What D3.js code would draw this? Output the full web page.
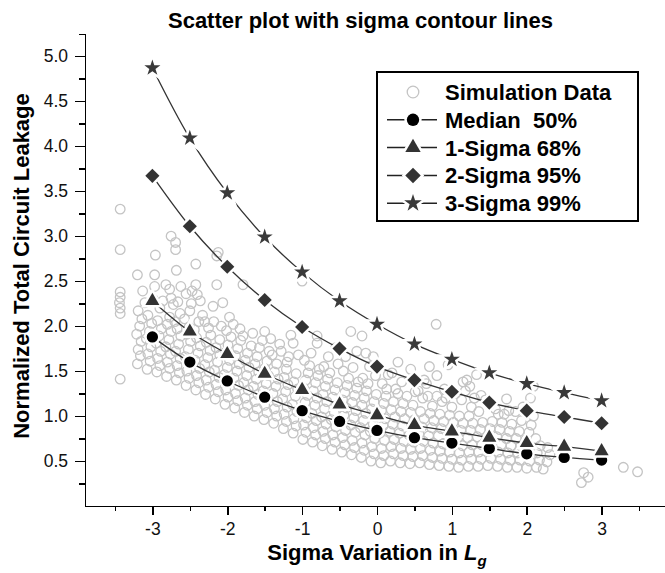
<!DOCTYPE html>
<meta charset="utf-8">
<style>
body { margin: 0; background: #fff; }
svg { font-family: Arial, "Liberation Sans", sans-serif; }
.axis path, .axis line { stroke: #000; stroke-width: 1.5; fill: none; shape-rendering: crispEdges; }
.axis text { font-size: 17.5px; fill: #111; }
.title, .label, .legend text { font-weight: bold; fill: #000; }
.sim { fill: none; stroke: #c4c4c4; stroke-width: 1.3; }
.curve { fill: none; stroke: #333; stroke-width: 1.3; }
</style>
<body></body>
<script src="https://cdnjs.cloudflare.com/ajax/libs/d3/7.8.5/d3.min.js"></script>
<script>
// ticks
var xTicks = [-3, -2, -1, 0, 1, 2, 3];
var xMinor = [-3.5, -2.5, -1.5, -0.5, 0.5, 1.5, 2.5, 3.5];
var yTicks = [0.5, 1.0, 1.5, 2.0, 2.5, 3.0, 3.5, 4.0, 4.5, 5.0];
var yMinor = [0.25, 0.75, 1.25, 1.75, 2.25, 2.75, 3.25, 3.75, 4.25, 4.75, 5.25];

// contour lines (x = sigma of Lg)
var sigmaX   = [-3, -2.5, -2, -1.5, -1, -0.5, 0, 0.5, 1, 1.5, 2, 2.5, 3];
var median50 = [1.88, 1.60, 1.39, 1.21, 1.06, 0.94, 0.84, 0.76, 0.70, 0.64, 0.58, 0.54, 0.51];
var sigma68  = [2.28, 1.94, 1.69, 1.47, 1.29, 1.13, 1.01, 0.90, 0.83, 0.76, 0.70, 0.66, 0.61];
var sigma95  = [3.67, 3.11, 2.66, 2.29, 1.99, 1.75, 1.55, 1.40, 1.27, 1.15, 1.06, 0.99, 0.92];
var sigma99  = [4.87, 4.09, 3.48, 2.99, 2.60, 2.28, 2.02, 1.80, 1.63, 1.48, 1.36, 1.26, 1.17];

var legendNames = ["Simulation Data", "Median  50%", "1-Sigma 68%", "2-Sigma 95%", "3-Sigma 99%"];

// monte carlo points [sigma, leakage]
var simPoints = [
  [-3.43,3.30],[-3.43,2.85],[-3.43,2.38],[-3.43,2.32],[-3.44,2.26],[-3.43,2.20],[-3.43,2.14],[-3.43,1.41],
  [-3.20,1.58],[-3.16,1.67],[-3.19,1.74],[-3.15,1.83],[-3.21,1.91],[-3.17,2.00],[-3.14,2.08],[-3.19,2.17],[-3.13,2.39],[-3.20,2.57],
  [-3.07,1.52],[-3.03,1.61],[-3.06,1.69],[-3.02,1.77],[-3.08,1.86],[-3.04,1.94],[-3.01,2.03],[-3.06,2.12],[-2.97,2.44],[-2.97,2.57],[-2.96,2.79],
  [-2.94,1.49],[-2.90,1.56],[-2.93,1.64],[-2.89,1.72],[-2.95,1.81],[-2.91,1.89],[-2.88,1.97],[-2.93,2.06],[-2.90,2.20],
  [-2.81,1.44],[-2.77,1.53],[-2.80,1.60],[-2.76,1.69],[-2.82,1.77],[-2.78,1.85],[-2.75,1.94],[-2.80,2.02],[-2.77,2.10],[-2.75,2.31],[-2.72,2.24],[-2.77,2.41],[-2.82,2.46],
  [-2.68,1.40],[-2.64,1.48],[-2.67,1.56],[-2.63,1.64],[-2.69,1.72],[-2.65,1.80],[-2.62,1.89],[-2.67,1.97],[-2.62,2.44],[-2.68,2.62],[-2.69,2.85],[-2.69,2.93],[-2.75,3.00],
  [-2.55,1.34],[-2.51,1.42],[-2.54,1.50],[-2.50,1.58],[-2.56,1.66],[-2.52,1.74],[-2.49,1.83],[-2.54,1.91],[-2.51,1.99],[-2.50,2.17],
  [-2.42,1.29],[-2.38,1.37],[-2.41,1.45],[-2.37,1.53],[-2.43,1.62],[-2.39,1.70],[-2.36,1.78],[-2.41,1.87],[-2.38,2.05],[-2.40,2.35],[-2.47,2.39],[-2.42,2.46],[-2.42,2.69],
  [-2.29,1.24],[-2.25,1.32],[-2.28,1.40],[-2.24,1.49],[-2.30,1.57],[-2.26,1.65],[-2.23,1.73],[-2.28,1.82],[-2.25,1.98],[-2.19,2.22],
  [-2.16,1.19],[-2.12,1.27],[-2.15,1.35],[-2.11,1.43],[-2.17,1.51],[-2.13,1.60],[-2.10,1.68],[-2.15,1.76],[-2.06,2.26],[-2.14,2.46],[-2.14,2.78],[-2.12,2.82],
  [-2.03,1.13],[-1.99,1.21],[-2.02,1.29],[-1.98,1.37],[-2.04,1.46],[-2.00,1.54],[-1.97,1.62],[-2.02,1.71],[-1.99,1.79],[-2.01,1.95],[-1.97,2.10],
  [-1.90,1.09],[-1.86,1.17],[-1.89,1.25],[-1.85,1.34],[-1.91,1.42],[-1.87,1.50],[-1.84,1.58],[-1.89,1.67],[-1.86,1.75],
  [-1.77,1.04],[-1.73,1.12],[-1.76,1.20],[-1.72,1.29],[-1.78,1.37],[-1.74,1.45],[-1.71,1.54],[-1.76,1.62],[-1.73,1.70],[-1.79,1.89],[-1.79,2.46],
  [-1.64,1.00],[-1.60,1.08],[-1.63,1.16],[-1.59,1.24],[-1.65,1.33],[-1.61,1.41],[-1.58,1.49],[-1.63,1.58],[-1.60,1.66],
  [-1.51,0.96],[-1.47,1.04],[-1.50,1.12],[-1.46,1.20],[-1.52,1.28],[-1.48,1.36],[-1.45,1.45],[-1.50,1.53],[-1.47,1.61],[-1.44,1.72],[-1.53,1.84],[-1.50,1.94],
  [-1.38,0.92],[-1.34,1.00],[-1.37,1.08],[-1.33,1.16],[-1.39,1.25],[-1.35,1.33],[-1.32,1.41],[-1.37,1.49],[-1.34,1.58],[-1.30,1.80],
  [-1.25,0.86],[-1.21,0.94],[-1.24,1.02],[-1.20,1.10],[-1.26,1.19],[-1.22,1.27],[-1.19,1.35],[-1.24,1.43],[-1.21,1.52],[-1.18,1.66],[-1.12,1.81],
  [-1.12,0.81],[-1.08,0.89],[-1.11,0.97],[-1.07,1.05],[-1.13,1.13],[-1.09,1.22],[-1.06,1.30],[-1.11,1.38],[-1.08,1.47],[-1.00,2.50],
  [-0.99,0.74],[-0.95,0.82],[-0.98,0.90],[-0.94,0.98],[-1.00,1.07],[-0.96,1.15],[-0.93,1.23],[-0.98,1.31],[-0.95,1.40],[-0.92,1.48],[-0.97,1.62],
  [-0.86,0.71],[-0.82,0.79],[-0.85,0.87],[-0.81,0.95],[-0.87,1.03],[-0.83,1.12],[-0.80,1.20],[-0.85,1.28],[-0.82,1.37],[-0.79,1.45],[-0.80,1.81],[-0.80,1.89],
  [-0.73,0.67],[-0.69,0.75],[-0.72,0.83],[-0.68,0.91],[-0.74,0.99],[-0.70,1.08],[-0.67,1.16],[-0.72,1.24],[-0.69,1.33],[-0.66,1.41],[-0.71,1.55],
  [-0.60,0.63],[-0.56,0.71],[-0.59,0.79],[-0.55,0.88],[-0.61,0.96],[-0.57,1.04],[-0.54,1.12],[-0.59,1.21],[-0.56,1.29],[-0.53,1.37],
  [-0.47,0.60],[-0.43,0.68],[-0.46,0.76],[-0.42,0.84],[-0.48,0.93],[-0.44,1.01],[-0.41,1.09],[-0.46,1.18],[-0.43,1.26],[-0.40,1.34],[-0.45,1.50],[-0.42,1.66],
  [-0.34,0.57],[-0.30,0.65],[-0.33,0.73],[-0.29,0.82],[-0.35,0.90],[-0.31,0.98],[-0.28,1.06],[-0.33,1.15],[-0.30,1.23],[-0.27,1.31],[-0.35,1.94],[-0.27,1.72],
  [-0.21,0.54],[-0.17,0.62],[-0.20,0.70],[-0.16,0.79],[-0.22,0.87],[-0.18,0.95],[-0.15,1.03],[-0.20,1.12],[-0.17,1.20],[-0.14,1.28],[-0.19,1.42],[-0.20,1.89],
  [-0.08,0.50],[-0.04,0.58],[-0.07,0.66],[-0.03,0.75],[-0.09,0.83],[-0.05,0.91],[-0.02,0.99],[-0.07,1.08],[-0.04,1.16],[-0.01,1.24],
  [0.05,0.48],[0.09,0.56],[0.06,0.64],[0.10,0.73],[0.04,0.81],[0.08,0.89],[0.11,0.97],[0.06,1.06],[0.09,1.14],[0.12,1.22],[0.07,1.36],
  [0.18,0.50],[0.22,0.58],[0.19,0.66],[0.23,0.74],[0.17,0.83],[0.21,0.91],[0.24,0.99],[0.19,1.07],[0.22,1.16],[0.25,1.30],[0.20,1.48],
  [0.31,0.48],[0.35,0.56],[0.32,0.64],[0.36,0.72],[0.30,0.81],[0.34,0.89],[0.37,0.97],[0.32,1.05],[0.35,1.14],
  [0.44,0.47],[0.48,0.55],[0.45,0.63],[0.49,0.71],[0.43,0.79],[0.47,0.88],[0.50,0.96],[0.45,1.04],[0.48,1.12],[0.51,1.27],
  [0.57,0.48],[0.61,0.56],[0.58,0.64],[0.62,0.72],[0.56,0.80],[0.60,0.88],[0.63,0.97],[0.58,1.05],[0.61,1.20],[0.63,1.40],
  [0.70,0.46],[0.74,0.54],[0.71,0.62],[0.75,0.70],[0.69,0.78],[0.73,0.87],[0.76,0.95],[0.71,1.03],[0.74,1.11],[0.79,2.02],
  [0.83,0.45],[0.87,0.53],[0.84,0.61],[0.88,0.69],[0.82,0.78],[0.86,0.86],[0.89,0.94],[0.84,1.02],[0.87,1.16],[0.90,1.30],
  [0.96,0.44],[1.00,0.52],[0.97,0.60],[1.01,0.68],[0.95,0.77],[0.99,0.85],[1.02,0.93],[0.97,1.01],[1.00,1.10],[0.95,1.57],
  [1.09,0.43],[1.13,0.51],[1.10,0.59],[1.14,0.67],[1.08,0.76],[1.12,0.84],[1.15,0.92],[1.10,1.00],[1.13,1.18],[1.15,1.38],
  [1.22,0.44],[1.26,0.52],[1.23,0.60],[1.27,0.68],[1.21,0.76],[1.25,0.84],[1.28,0.92],[1.23,1.00],[1.26,1.10],[1.24,1.33],[1.33,1.46],
  [1.35,0.44],[1.39,0.52],[1.36,0.60],[1.40,0.68],[1.34,0.77],[1.38,0.85],[1.41,0.93],[1.36,1.05],[1.39,1.23],
  [1.48,0.45],[1.52,0.53],[1.49,0.61],[1.53,0.69],[1.47,0.77],[1.51,0.86],[1.54,0.94],[1.50,1.12],
  [1.61,0.44],[1.65,0.52],[1.62,0.60],[1.66,0.68],[1.60,0.77],[1.64,0.85],[1.67,0.93],[1.62,1.02],
  [1.74,0.43],[1.78,0.51],[1.75,0.59],[1.79,0.67],[1.73,0.75],[1.77,0.83],[1.80,0.91],[1.76,1.06],[1.73,1.19],
  [1.87,0.43],[1.91,0.51],[1.88,0.59],[1.92,0.67],[1.86,0.75],[1.90,0.83],[1.93,0.95],
  [2.00,0.42],[2.04,0.50],[2.01,0.58],[2.05,0.66],[1.99,0.74],[2.03,0.82],[2.06,0.90],[2.09,1.00],[2.09,1.33],
  [2.13,0.43],[2.17,0.51],[2.14,0.59],[2.18,0.67],[2.12,0.75],[2.22,0.41],
  [2.27,0.49],[2.31,0.57],[2.28,0.65],
  [2.76,0.37],[2.82,0.32],[2.73,0.26],[3.29,0.43],[3.48,0.38],
  // upper part of the cloud
  [-3.10,2.26],[-2.99,2.30],[-2.86,2.28],[-2.70,2.05],[-2.63,2.14],[-2.66,2.27],[-2.57,2.08],[-2.48,2.25],
  [-2.55,2.36],[-2.44,1.96],[-2.33,2.12],[-2.36,2.28],[-2.22,1.90],[-2.30,2.05],[-2.18,2.05],[-2.10,1.85],
  [-2.08,2.00],[-1.95,1.88],[-1.92,2.02],[-1.82,1.84],[-1.83,1.97],[-1.68,1.78],[-1.66,1.92],[-1.57,1.76],
  [-1.40,1.68],[-1.42,1.86],[-1.28,1.72],[-1.20,1.60],[-1.05,1.68],[-1.15,1.90],
  [-0.90,1.56],[-0.77,1.52],[-0.63,1.48],[-0.52,1.58],[-0.88,1.70],[-0.65,1.66],[-0.55,1.76],
  [-0.38,1.42],[-0.25,1.38],[-0.12,1.36],[-0.02,1.45],[-0.32,1.54],[-0.10,1.55],[-0.05,1.66],[-0.15,1.70],
  [0.13,1.30],[0.28,1.25],[0.40,1.22],[0.15,1.46],[0.33,1.38],[0.45,1.52],[0.28,1.60],
  [0.55,1.28],[0.68,1.22],[0.80,1.22],[0.66,1.36],[0.80,1.45],[0.92,1.20],[0.70,1.55],
  [1.05,1.25],[1.18,1.28],[1.30,1.20],[1.45,1.18],[1.20,1.40],
  [1.58,1.08],[1.70,1.02],[1.85,1.05],[1.95,1.10],[2.05,1.20]
];

var width = 665, height = 573;
var axisY = 506, axisX = 85;

var xScale = d3.scaleLinear().domain([-3.9, 3.9]).range([85, 669]);
var yScale = d3.scaleLinear().domain([0, 5.25]).range([axisY, 33.75]);

var svg = d3.select("body").append("svg")
    .attr("width", width)
    .attr("height", height);

svg.append("rect").attr("width", width).attr("height", height).attr("fill", "#fff");

// scatter
svg.append("g").selectAll("circle")
    .data(simPoints)
    .enter().append("circle")
    .attr("class", "sim")
    .attr("cx", function(d) { return xScale(d[0]); })
    .attr("cy", function(d) { return yScale(d[1]); })
    .attr("r", 4.8);

// series: values + marker
var series = [
  {values: median50, symbol: d3.symbolCircle, size: 100, fill: "#000", rot: 0},
  {values: sigma68, symbol: d3.symbolTriangle, size: 85, fill: "#333", rot: 0},
  {values: sigma95, symbol: d3.symbolSquare, size: 100, fill: "#333", rot: 45},
  {values: sigma99, symbol: d3.symbolStar, size: 80, fill: "#3a3a3a", rot: 0}
];

var line = d3.line()
    .x(function(d) { return xScale(d[0]); })
    .y(function(d) { return yScale(d[1]); })
    .curve(d3.curveCatmullRom);

series.forEach(function(s) {
  var pts = sigmaX.map(function(x, i) { return [x, s.values[i]]; });
  svg.append("path").attr("class", "curve").attr("d", line(pts));
});

series.forEach(function(s) {
  var pts = sigmaX.map(function(x, i) { return [x, s.values[i]]; });
  svg.append("g").selectAll("path")
      .data(pts)
      .enter().append("path")
      .attr("d", d3.symbol().type(s.symbol).size(s.size))
      .attr("transform", function(d) {
        return "translate(" + xScale(d[0]) + "," + yScale(d[1]) + ") rotate(" + s.rot + ")";
      })
      .attr("fill", s.fill)
      .attr("stroke", "#fff")
      .attr("stroke-width", 5)
      .style("paint-order", "stroke");
});

// axes
svg.append("g")
    .attr("class", "x axis")
    .attr("transform", "translate(0," + axisY + ")")
    .call(d3.axisBottom(xScale).tickValues(xTicks).tickSize(9).tickSizeOuter(0).tickPadding(8)
      .tickFormat(function(d) { return String(d); }));
svg.append("g")
    .attr("class", "x axis minor")
    .attr("transform", "translate(0," + axisY + ")")
    .call(d3.axisBottom(xScale).tickValues(xMinor).tickSize(5).tickFormat(""))
    .select(".domain").remove();

svg.append("g")
    .attr("class", "y axis")
    .attr("transform", "translate(" + axisX + ",0)")
    .call(d3.axisLeft(yScale).tickValues(yTicks).tickSize(10).tickSizeOuter(0).tickPadding(7)
      .tickFormat(d3.format(".1f")));
svg.append("g")
    .attr("class", "y axis minor")
    .attr("transform", "translate(" + axisX + ",0)")
    .call(d3.axisLeft(yScale).tickValues(yMinor).tickSize(6).tickFormat(""))
    .select(".domain").remove();

svg.selectAll(".axis text").attr("font-family", null).attr("font-size", null);

// titles
svg.append("text").attr("class", "title")
    .attr("x", 360.5).attr("y", 28)
    .attr("text-anchor", "middle")
    .style("font-size", "22px")
    .text("Scatter plot with sigma contour lines");

svg.append("text").attr("class", "label")
    .attr("transform", "translate(29,266) rotate(-90)")
    .attr("text-anchor", "middle")
    .style("font-size", "22px")
    .text("Normalized Total Circuit Leakage");

var xl = svg.append("text").attr("class", "label")
    .attr("x", 377).attr("y", 560)
    .attr("text-anchor", "middle")
    .style("font-size", "22px");
xl.append("tspan").text("Sigma Variation in ");
xl.append("tspan").style("font-style", "italic").text("L");
xl.append("tspan").style("font-style", "italic").style("font-size", "15px").attr("dy", 6).text("g");

// legend
var lg = svg.append("g").attr("class", "legend");
lg.append("rect")
    .attr("x", 377).attr("y", 72).attr("width", 261).attr("height", 149)
    .attr("fill", "#fff").attr("stroke", "#000").attr("stroke-width", 2);

legendNames.forEach(function(name, i) {
  var cy = 92 + i * 27.8;
  if (i === 0) {
    lg.append("circle").attr("class", "sim").attr("cx", 413).attr("cy", cy).attr("r", 5.8);
  } else {
    var s = series[i - 1];
    lg.append("line").attr("x1", 387).attr("x2", 437).attr("y1", cy).attr("y2", cy)
        .attr("stroke", "#222").attr("stroke-width", 1.5);
    lg.append("path")
        .attr("d", d3.symbol().type(s.symbol).size(s.size * 1.2))
        .attr("transform", "translate(413," + cy + ") rotate(" + s.rot + ")")
        .attr("fill", s.fill).attr("stroke", "#fff").attr("stroke-width", 5)
        .style("paint-order", "stroke");
  }
  lg.append("text")
      .attr("x", 445).attr("y", cy).attr("dy", "0.36em")
      .style("font-size", "22px").style("white-space", "pre")
      .text(name);
});
</script>
